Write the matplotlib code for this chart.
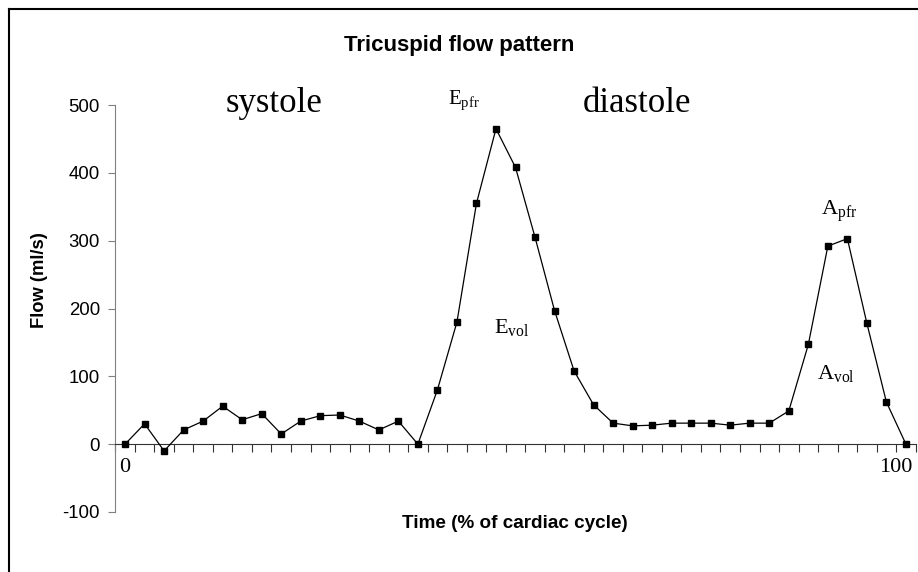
import numpy as np
import matplotlib.pyplot as plt
from matplotlib.lines import Line2D

plt.rcParams['mathtext.fontset'] = 'custom'
plt.rcParams['mathtext.rm'] = 'Liberation Serif'
plt.rcParams['mathtext.it'] = 'Liberation Serif'

# time points (% of cardiac cycle), one sample every 2.5 %
time_pct = np.arange(0, 100.01, 2.5)
flow = [0, 30, -10, 21, 34, 56, 36, 45, 15, 34, 42, 43, 34, 21, 34, 0,
        80, 180, 355, 465, 408, 305, 197, 108, 58, 31, 27, 28, 31, 31,
        31, 28, 31, 31, 49, 147, 292, 303, 178, 62, 0]
y_ticks = [-100, 0, 100, 200, 300, 400, 500]

fig = plt.figure(figsize=(9.18, 5.72), dpi=100)
ax = fig.add_axes([0.1256, 0.1049, 0.8719, 0.7115])

ax.plot(time_pct, flow, color='black', linewidth=0.9, marker='s',
        markersize=5, markerfacecolor='black', markeredgecolor='black',
        clip_on=False, zorder=3)

ax.set_xlim(-1.25, 101.25)
ax.set_ylim(-100, 500)

for s in ['top', 'right']:
    ax.spines[s].set_visible(False)
ax.spines['bottom'].set_position(('data', 0))
ax.spines['bottom'].set_color('#333333')
ax.spines['left'].set_color('#808080')

# category-style ticks between the samples
ax.set_xticks(np.arange(-1.25, 101.3, 2.5))
ax.set_xticklabels([])
ax.tick_params(axis='x', direction='out', length=6, width=0.8, color='#333333')
ax.set_yticks(y_ticks)
ax.set_yticklabels([str(v) for v in y_ticks], fontsize=13.4,
                   fontfamily='Liberation Sans')
ax.tick_params(axis='y', direction='out', length=5, width=0.8, color='#808080', pad=6)

ax.text(0, -20, '0', fontsize=16, fontfamily='Liberation Serif', ha='center', va='top')
ax.text(98.7, -20, '100', fontsize=16, fontfamily='Liberation Serif', ha='center', va='top')

serif = dict(fontfamily='Liberation Serif', ha='center', va='center')
fig.text(274 / 918, 1 - 103 / 572, 'systole', fontsize=25, **serif)
fig.text(637 / 918, 1 - 103 / 572, 'diastole', fontsize=25, **serif)
fig.text(464 / 918, 1 - 100 / 572, r'$\mathrm{E_{pfr}}$', fontsize=15, **serif)
fig.text(512 / 918, 1 - 328 / 572, r'$\mathrm{E_{vol}}$', fontsize=16, **serif)
fig.text(839 / 918, 1 - 211 / 572, r'$\mathrm{A_{pfr}}$', fontsize=16, **serif)
fig.text(836 / 918, 1 - 374 / 572, r'$\mathrm{A_{vol}}$', fontsize=16, **serif)

fig.text(459 / 918, 1 - 45 / 572, 'Tricuspid flow pattern', fontsize=16,
         fontweight='bold', fontfamily='Liberation Sans', ha='center', va='center')
fig.text(515 / 918, 1 - 523 / 572, 'Time (% of cardiac cycle)', fontsize=13.6,
         fontweight='bold', fontfamily='Liberation Sans', ha='center', va='center')
fig.text(40 / 918, 1 - 280 / 572, 'Flow (ml/s)', fontsize=13.2, rotation=90,
         fontweight='bold', fontfamily='Liberation Sans', ha='center', va='center')

# chart frame: only left and top edges fall inside the picture
fig.add_artist(Line2D([8.5 / 918, 8.5 / 918], [0, 1 - 8.5 / 572], color='black',
                      linewidth=1.5, transform=fig.transFigure))
fig.add_artist(Line2D([8.5 / 918, 1], [1 - 8.5 / 572, 1 - 8.5 / 572], color='black',
                      linewidth=1.5, transform=fig.transFigure))

fig.savefig('out.png', dpi=100)
